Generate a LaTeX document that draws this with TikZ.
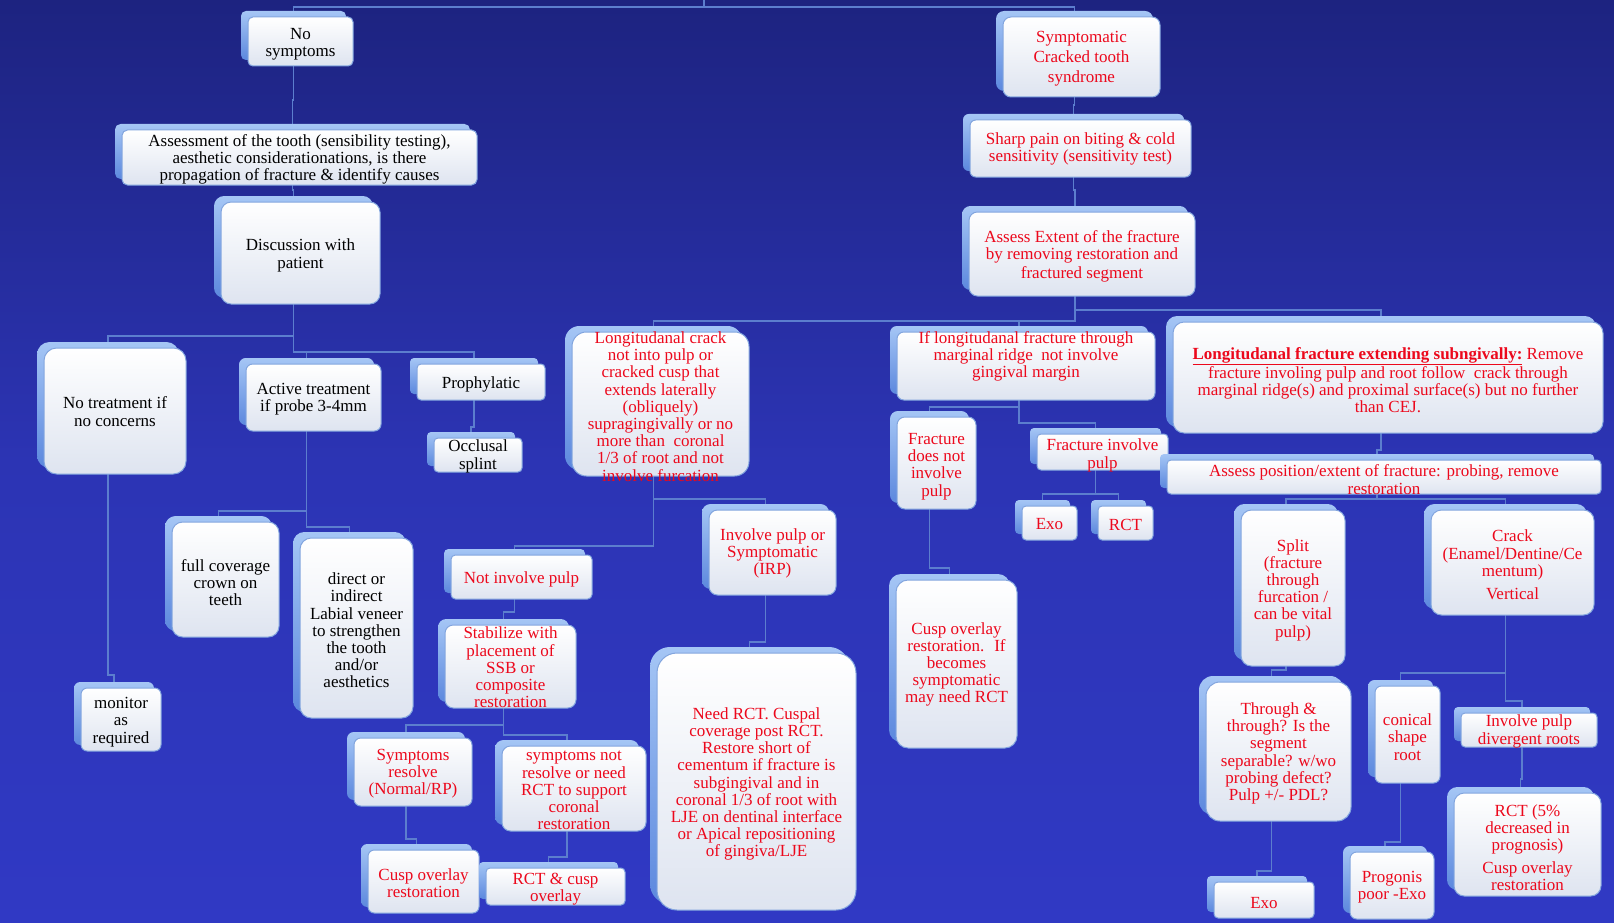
\documentclass[tikz,border=0pt]{standalone}
\usepackage{fontspec}
\setmainfont{Liberation Serif}
\usetikzlibrary{calc}
\pgfdeclarelayer{back}\pgfdeclarelayer{lines}
\pgfsetlayers{back,lines,main}
\definecolor{bgtop}{RGB}{29,35,128}
\definecolor{bgmid}{RGB}{44,52,180}
\definecolor{bgbot}{RGB}{48,57,196}
\definecolor{connc}{RGB}{92,126,206}
\definecolor{shtop}{RGB}{165,198,245}
\definecolor{shbot}{RGB}{92,136,222}
\definecolor{fbot}{RGB}{222,228,240}
\definecolor{fborder}{RGB}{130,165,222}
\definecolor{rtxt}{RGB}{236,8,28}
\tikzset{
 conn/.style={draw=connc, line width=1.5pt},
 shbox/.style={shade, top color=shtop, bottom color=shbot, draw=none, inner sep=0pt, outer sep=0pt},
 frbox/.style={shade, top color=white, bottom color=fbot, draw=fborder, line width=1pt, inner sep=0pt, outer sep=0pt},
 txt/.style={align=center, inner sep=0pt, yshift=-2.5pt, font=\fontsize{17}{17.2}\selectfont},
 blk/.style={txt, text=black},
 rd/.style={txt, text=rtxt},
}
\newcommand\bx[8]{%
 \pgfmathsetmacro\bxw{#4-#2}\pgfmathsetmacro\bxh{#5-#3}%
 \pgfmathsetmacro\bxr{max(4,0.1*min(\bxw,\bxh))}%
 \node[shbox, rounded corners=\bxr pt, minimum width=\bxw pt, minimum height=\bxh pt] (#1S) at ({(#2+#4)/2-7},{(#3+#5)/2-6}) {};
 \node[frbox, rounded corners=\bxr pt, minimum width=\bxw pt, minimum height=\bxh pt] (#1) at ({(#2+#4)/2},{(#3+#5)/2}) {};
 \node[#7] (#1T) at ({(#2+#4)/2},#6) {#8};
}
\newcommand\cn[3]{\draw[conn] let \p1=(#1), \p2=(#2) in (\p1) -- (\x1,{-#3pt}) -- (\x2,{-#3pt}) -- (\p2);}
\begin{document}
\begin{tikzpicture}[x=1pt,y=-1pt]
\useasboundingbox (0,0) rectangle (1614,923);
\begin{pgfonlayer}{back}
\shade[top color=bgtop, bottom color=bgmid] (0,0) rectangle (1614,461);
\shade[top color=bgmid, bottom color=bgbot] (0,460) rectangle (1614,923);
\end{pgfonlayer}
\coordinate (root) at (704,-3);
% left side
\bx{nosym}{248}{17}{353}{66}{41.5}{blk}{No\\symptoms}
\bx{assess}{122}{130}{477}{185}{157}{blk}{Assessment of the tooth (sensibility testing),\\aesthetic considerationations, is there\\propagation of fracture \& identify causes}
\bx{discuss}{221}{202}{380}{304}{253}{blk}{Discussion with\\patient}
\bx{notreat}{44}{348}{186}{474}{409}{blk}{No treatment if\\no concerns}
\bx{active}{246}{364}{381}{431}{397}{blk}{Active treatment\\if probe 3-4mm}
\bx{proph}{417}{364}{545}{400}{382}{blk}{Prophylatic}
\bx{occl}{434}{438}{522}{472}{454}{blk}{Occlusal\\splint}
\bx{fullcov}{172}{522}{279}{637}{580}{blk}{full coverage\\crown on\\teeth}
\bx{direct}{300}{538}{413}{718}{628}{blk}{direct or\\indirect\\Labial veneer\\to strengthen\\the tooth\\and/or\\aesthetics}
\bx{monitor}{81}{688}{161}{751}{719.5}{blk}{monitor\\as\\required}
% middle
\bx{lcrack}{572}{332}{749}{476}{404}{rd}{Longitudanal crack\\not into pulp or\\cracked cusp that\\extends laterally\\(obliquely)\\supragingivally or no\\more than \ coronal\\1/3 of root and not\\involve furcation}
\bx{nip}{451}{555}{592}{599}{577}{rd}{Not involve pulp}
\bx{stab}{445}{625}{576}{708}{665}{rd}{Stabilize with\\placement of\\SSB or\\composite\\restoration}
\bx{sres}{354}{738}{472}{806}{771}{rd}{Symptoms\\resolve\\(Normal/RP)}
\bx{snot}{502}{746}{646}{831}{788}{rd}{symptoms not\\resolve or need\\RCT to support\\coronal\\restoration}
\bx{cuspa}{368}{850}{479}{913}{880.5}{rd}{Cusp overlay\\restoration}
\bx{rctcusp}{486}{868}{625}{905}{887}{rd}{RCT \& cusp\\overlay}
\bx{invp}{709}{510}{836}{595}{551}{rd}{Involve pulp or\\Symptomatic\\(IRP)}
\bx{needrct}{657}{653}{856}{910}{781.5}{rd}{Need RCT. Cuspal\\coverage post RCT.\\Restore short of\\cementum if fracture is\\subgingival and in\\coronal 1/3 of root with\\LJE on dentinal interface\\or Apical repositioning\\of gingiva/LJE}
% right
\bx{symp}{1003}{17}{1160}{97}{56.5}{rd}{Symptomatic\\[3pt]Cracked tooth\\[3pt]syndrome}
\bx{sharp}{970}{120}{1191}{177}{146.5}{rd}{Sharp pain on biting \& cold\\sensitivity (sensitivity test)}
\bx{extent}{969}{212}{1195}{296}{254}{rd}{Assess Extent of the fracture\\by removing restoration and\\[1.5pt]fractured segment}
\bx{iflong}{897}{332}{1155}{400}{354}{rd}{If longitudanal fracture through\\marginal ridge \ not involve\\gingival margin}
\bx{fdnot}{897}{417}{976}{509}{464}{rd}{Fracture\\does not\\involve\\pulp}
\bx{finv}{1037}{434}{1168}{470}{453}{rd}{Fracture involve\\pulp}
\bx{exoa}{1022}{506}{1077}{540}{522}{rd}{Exo}
\bx{rcta}{1098}{506}{1153}{540}{522}{rd}{RCT}
\bx{cuspb}{896}{580}{1017}{748}{662}{rd}{Cusp overlay\\restoration. \ If\\becomes\\symptomatic\\may need RCT}
\bx{subg}{1173}{322}{1603}{433}{377.5}{rd}{\underline{\textbf{Longitudanal fracture extending subngivally:}} Remove\\fracture involing pulp and root follow \ crack through\\marginal ridge(s) and proximal surface(s) but no further\\than CEJ.}
\bx{asspos}{1167}{460}{1601}{494}{477}{rd}{Assess position/extent of fracture: probing, remove\\restoration}
\bx{split}{1241}{510}{1345}{666}{587.5}{rd}{Split\\(fracture\\through\\furcation /\\can be vital\\pulp)}
\bx{crack}{1431}{510}{1594}{615}{562.5}{rd}{Crack\\(Enamel/Dentine/Ce\\mentum)\\[6pt]Vertical}
\bx{through}{1206}{682}{1351}{821}{751}{rd}{Through \&\\through? Is the\\segment\\separable? w/wo\\probing defect?\\Pulp +/- PDL?}
\bx{exob}{1214}{882}{1314}{918}{901}{rd}{Exo}
\bx{conical}{1375}{686}{1440}{783}{734.5}{rd}{conical\\shape\\root}
\bx{divpulp}{1461}{713}{1597}{747}{729}{rd}{Involve pulp\\divergent roots}
\bx{progonis}{1350}{852}{1434}{919}{885}{rd}{Progonis\\poor -Exo}
\bx{rctf}{1454}{793}{1601}{896}{845}{rd}{RCT (5\%\\decreased in\\prognosis)\\[5pt]Cusp overlay\\restoration}
\begin{pgfonlayer}{lines}
\cn{root}{nosymS.north}{7}
\cn{root}{sympS.north}{7}
\cn{nosymS.south}{assessS.north}{100}
\cn{assessS.south}{discussS.north}{190}
\cn{discussS.south}{notreatS.north}{336}
\cn{discussS.south}{activeS.north}{352}
\cn{discussS.south}{prophS.north}{352}
\cn{prophS.south}{occlS.north}{427}
\cn{activeS.south}{fullcovS.north}{511}
\cn{activeS.south}{directS.north}{527}
\cn{notreatS.south}{monitorS.north}{675}
\cn{sympS.south}{sharpS.north}{105}
\cn{sharpS.south}{extentS.north}{190}
\cn{extentS.south}{lcrackS.north}{321}
\cn{extentS.south}{iflongS.north}{321}
\cn{extentS.south}{subgS.north}{310}
\cn{lcrackS.south}{invpS.north}{499}
\cn{lcrackS.south}{nipS.north}{546}
\cn{nipS.south}{stabS.north}{612}
\cn{stabS.south}{sresS.north}{725}
\cn{stabS.south}{snotS.north}{735}
\cn{sresS.south}{cuspaS.north}{839}
\cn{snotS.south}{rctcuspS.north}{857}
\cn{invpS.south}{needrctS.north}{642}
\cn{iflongS.south}{fdnotS.north}{407}
\cn{iflongS.south}{finvS.north}{423}
\cn{finvS.south}{exoaS.north}{494}
\cn{finvS.south}{rctaS.north}{494}
\cn{fdnotS.south}{cuspbS.north}{568}
\cn{subgS.south}{assposS.north}{450}
\cn{assposS.south}{splitS.north}{499}
\cn{assposS.south}{crackS.north}{499}
\cn{splitS.south}{throughS.north}{670}
\cn{throughS.south}{exobS.north}{871}
\cn{crackS.south}{conicalS.north}{673}
\cn{crackS.south}{divpulpS.north}{701}
\cn{conicalS.south}{progonisS.north}{842}
\cn{divpulpS.south}{rctfS.north}{779}
\end{pgfonlayer}
\end{tikzpicture}
\end{document}
